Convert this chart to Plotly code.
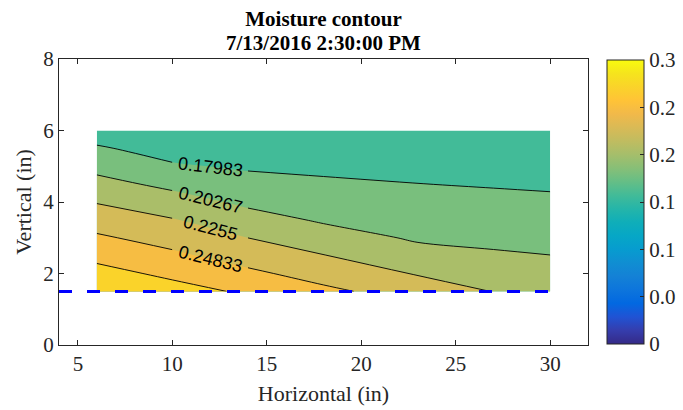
import plotly.graph_objects as go

# Sensor positions (inches) and volumetric moisture readings at each node
HORIZONTAL_IN = [6, 10, 14, 18, 23, 27, 30]
VERTICAL_IN = [1.5, 2.0, 2.5, 3.0, 3.5, 4.0, 4.5, 5.0, 5.5, 6.0]
MOISTURE = [
    [0.2940, 0.2799, 0.2677, 0.2532, 0.2380, 0.2249, 0.2219],  # y = 1.5
    [0.2788, 0.2663, 0.2528, 0.2397, 0.2239, 0.2151, 0.2124],  # y = 2.0
    [0.2652, 0.2527, 0.2389, 0.2263, 0.2105, 0.2052, 0.2029],  # y = 2.5
    [0.2516, 0.2396, 0.2254, 0.2124, 0.1999, 0.1978, 0.1964],  # y = 3.0
    [0.2380, 0.2268, 0.2112, 0.2001, 0.1933, 0.1913, 0.1899],  # y = 3.5
    [0.2243, 0.2122, 0.1983, 0.1917, 0.1867, 0.1848, 0.1834],  # y = 4.0
    [0.2099, 0.1973, 0.1874, 0.1832, 0.1801, 0.1784, 0.1772],  # y = 4.5
    [0.1959, 0.1822, 0.1771, 0.1753, 0.1741, 0.1724, 0.1712],  # y = 5.0
    [0.1823, 0.1714, 0.1681, 0.1678, 0.1681, 0.1664, 0.1652],  # y = 5.5
    [0.1687, 0.1614, 0.1591, 0.1603, 0.1621, 0.1604, 0.1570],  # y = 6.0
]

# Contour levels span the measured range in equal steps
MOISTURE_MIN = 0.157
MOISTURE_MAX = 0.294
N_STEPS = 6
N_LABELLED = 4

COLOR_LIMITS = [0.0, 0.3]
COLORBAR_TICKVALS = [0, 0.05, 0.1, 0.15, 0.2, 0.25, 0.3]
COLORBAR_TICKTEXT = ["0", "0.0", "0.1", "0.1", "0.2", "0.2", "0.3"]

X_TICKS = [5, 10, 15, 20, 25, 30]
Y_TICKS = [0, 2, 4, 6, 8]
X_RANGE = [4, 32]
Y_RANGE = [0, 8]

# Dashed reference depth line
REF_X = [4, 30]
REF_Y = [1.5, 1.5]

TITLE = "Moisture contour"
TIMESTAMP = "7/13/2016 2:30:00 PM"

# Inline level labels sit in the break between sensor columns 10 and 14
LABEL_BREAK_COL = 2
LABEL_X = 12.0
LABEL_Y = [4.97, 4.06, 3.28, 2.41]
LABEL_ANGLE = [6.5, 13.8, 14.6, 13.6]

# MATLAB parula colormap (every third entry of the 64-entry table)
PARULA_RGB = [
    (0.2081, 0.1663, 0.5292), (0.2081, 0.2386, 0.6771), (0.1253, 0.3242, 0.8303),
    (0.0060, 0.4086, 0.8828), (0.0498, 0.4586, 0.8641), (0.0779, 0.5040, 0.8384),
    (0.0641, 0.5570, 0.8240), (0.0265, 0.6137, 0.8135), (0.0228, 0.6535, 0.7768),
    (0.0590, 0.6838, 0.7254), (0.1453, 0.7098, 0.6646), (0.2586, 0.7317, 0.5954),
    (0.3953, 0.7459, 0.5244), (0.5300, 0.7491, 0.4661), (0.6473, 0.7456, 0.4188),
    (0.7525, 0.7384, 0.3768), (0.8507, 0.7299, 0.3360), (0.9450, 0.7261, 0.2886),
    (0.9990, 0.7653, 0.2164), (0.9788, 0.8271, 0.1633), (0.9589, 0.8949, 0.1132),
    (0.9763, 0.9831, 0.0538),
]
N_PARULA = len(PARULA_RGB)


def rgb_str(c):
    return "rgb(%d,%d,%d)" % tuple(round(255 * v) for v in c)


PARULA = [[i / (N_PARULA - 1), rgb_str(c)] for i, c in enumerate(PARULA_RGB)]


def parula_at(value):
    f = (value - COLOR_LIMITS[0]) / (COLOR_LIMITS[1] - COLOR_LIMITS[0])
    f = min(max(f, 0.0), 1.0)
    pos = f * (N_PARULA - 1)
    i = min(int(pos), N_PARULA - 2)
    t = pos - i
    a, b = PARULA_RGB[i], PARULA_RGB[i + 1]
    return rgb_str(tuple(a[k] + (b[k] - a[k]) * t for k in range(3)))


step = (MOISTURE_MAX - MOISTURE_MIN) / N_STEPS
levels = [MOISTURE_MIN + k * step for k in range(1, N_STEPS)]

# Each filled band takes the colour of its lower bounding level
band_colors = [parula_at(MOISTURE_MIN)] + [parula_at(v) for v in levels]
n_lv = len(levels)
fill_scale = []
for i, c in enumerate(band_colors):
    lo = max(0.0, (i - 0.5) / n_lv)
    hi = min(1.0, (i + 0.5) / n_lv)
    fill_scale += [[lo, c], [hi, c]]

AXIS_COLOR = "#262626"
SERIF = "Liberation Serif"
SANS = "Liberation Sans"
LINE = dict(color="black", width=0.9)

fig = go.Figure()

# Filled bands
fig.add_trace(go.Contour(
    x=HORIZONTAL_IN, y=VERTICAL_IN, z=MOISTURE,
    contours=dict(start=levels[0], end=levels[-1], size=step,
                  coloring="fill", showlines=False),
    colorscale=fill_scale, showscale=False, line=dict(width=0),
    hoverinfo="skip",
))

# Labelled levels: drawn on either side of the label break
c = LABEL_BREAK_COL
for xs, zs in (
    (HORIZONTAL_IN[:c], [row[:c] for row in MOISTURE]),
    (HORIZONTAL_IN[c:], [row[c:] for row in MOISTURE]),
):
    fig.add_trace(go.Contour(
        x=xs, y=VERTICAL_IN, z=zs,
        contours=dict(start=levels[0], end=levels[N_LABELLED - 1], size=step,
                      coloring="none"),
        line=LINE, showscale=False, hoverinfo="skip",
    ))

# Remaining unlabelled level(s), drawn across the full grid
fig.add_trace(go.Contour(
    x=HORIZONTAL_IN, y=VERTICAL_IN, z=MOISTURE,
    contours=dict(start=levels[N_LABELLED], end=levels[-1], size=step,
                  coloring="none"),
    line=LINE, showscale=False, hoverinfo="skip",
))

# Reference depth
fig.add_trace(go.Scatter(
    x=REF_X, y=REF_Y, mode="lines",
    line=dict(color="#0000FF", width=3, dash="13px,15px"),
    hoverinfo="skip", showlegend=False,
))

# Continuous parula colour bar
fig.add_trace(go.Scatter(
    x=[None], y=[None], mode="markers", showlegend=False, hoverinfo="skip",
    marker=dict(
        color=[COLOR_LIMITS[0]], colorscale=PARULA,
        cmin=COLOR_LIMITS[0], cmax=COLOR_LIMITS[1], showscale=True,
        colorbar=dict(
            thickness=37, thicknessmode="pixels",
            len=284, lenmode="pixels",
            x=(607 - 59) / 529, xanchor="left", xpad=0,
            y=0.5, yanchor="middle", ypad=0,
            outlinewidth=1, outlinecolor=AXIS_COLOR,
            ticks="inside", ticklen=4, tickcolor=AXIS_COLOR,
            tickvals=COLORBAR_TICKVALS, ticktext=COLORBAR_TICKTEXT,
            tickfont=dict(family=SERIF, size=21, color=AXIS_COLOR),
        ),
    ),
))

label_notes = [
    dict(text=f"{lv:.5g}", x=LABEL_X, y=ly, xref="x", yref="y",
         textangle=ang, showarrow=False, xanchor="center", yanchor="middle",
         font=dict(family=SANS, size=18, color="black"))
    for lv, ly, ang in zip(levels[:N_LABELLED], LABEL_Y, LABEL_ANGLE)
]

axis_common = dict(
    ticks="inside", ticklen=5, tickcolor=AXIS_COLOR, tickwidth=1,
    showline=True, linecolor=AXIS_COLOR, linewidth=1, mirror="ticks",
    showgrid=False, zeroline=False,
    tickfont=dict(family=SERIF, size=21, color=AXIS_COLOR),
)

fig.update_layout(
    width=683, height=410,
    margin=dict(l=59, r=95, t=59, b=65, pad=0, autoexpand=False),
    paper_bgcolor="white", plot_bgcolor="white",
    showlegend=False,
    title=dict(text=TITLE, x=0.5, xref="paper", xanchor="center",
               y=1 - 19 / 410, yref="container", yanchor="middle",
               font=dict(family=SERIF, size=21, color="black", weight=700)),
    xaxis=dict(range=X_RANGE, tickvals=X_TICKS,
               title=dict(text="Horizontal (in)", standoff=10,
                          font=dict(family=SERIF, size=22, color=AXIS_COLOR)),
               **axis_common),
    yaxis=dict(range=Y_RANGE, tickvals=Y_TICKS,
               title=dict(text="Vertical (in)", standoff=5,
                          font=dict(family=SERIF, size=22, color=AXIS_COLOR)),
               **axis_common),
    annotations=[dict(text=TIMESTAMP, x=0.5, xref="paper", xanchor="center",
                      y=1 + (59 - 42.5) / 286, yref="paper", yanchor="middle",
                      showarrow=False,
                      font=dict(family=SERIF, size=21, color="black", weight=700))]
    + label_notes,
)

fig.write_html("out.html")
